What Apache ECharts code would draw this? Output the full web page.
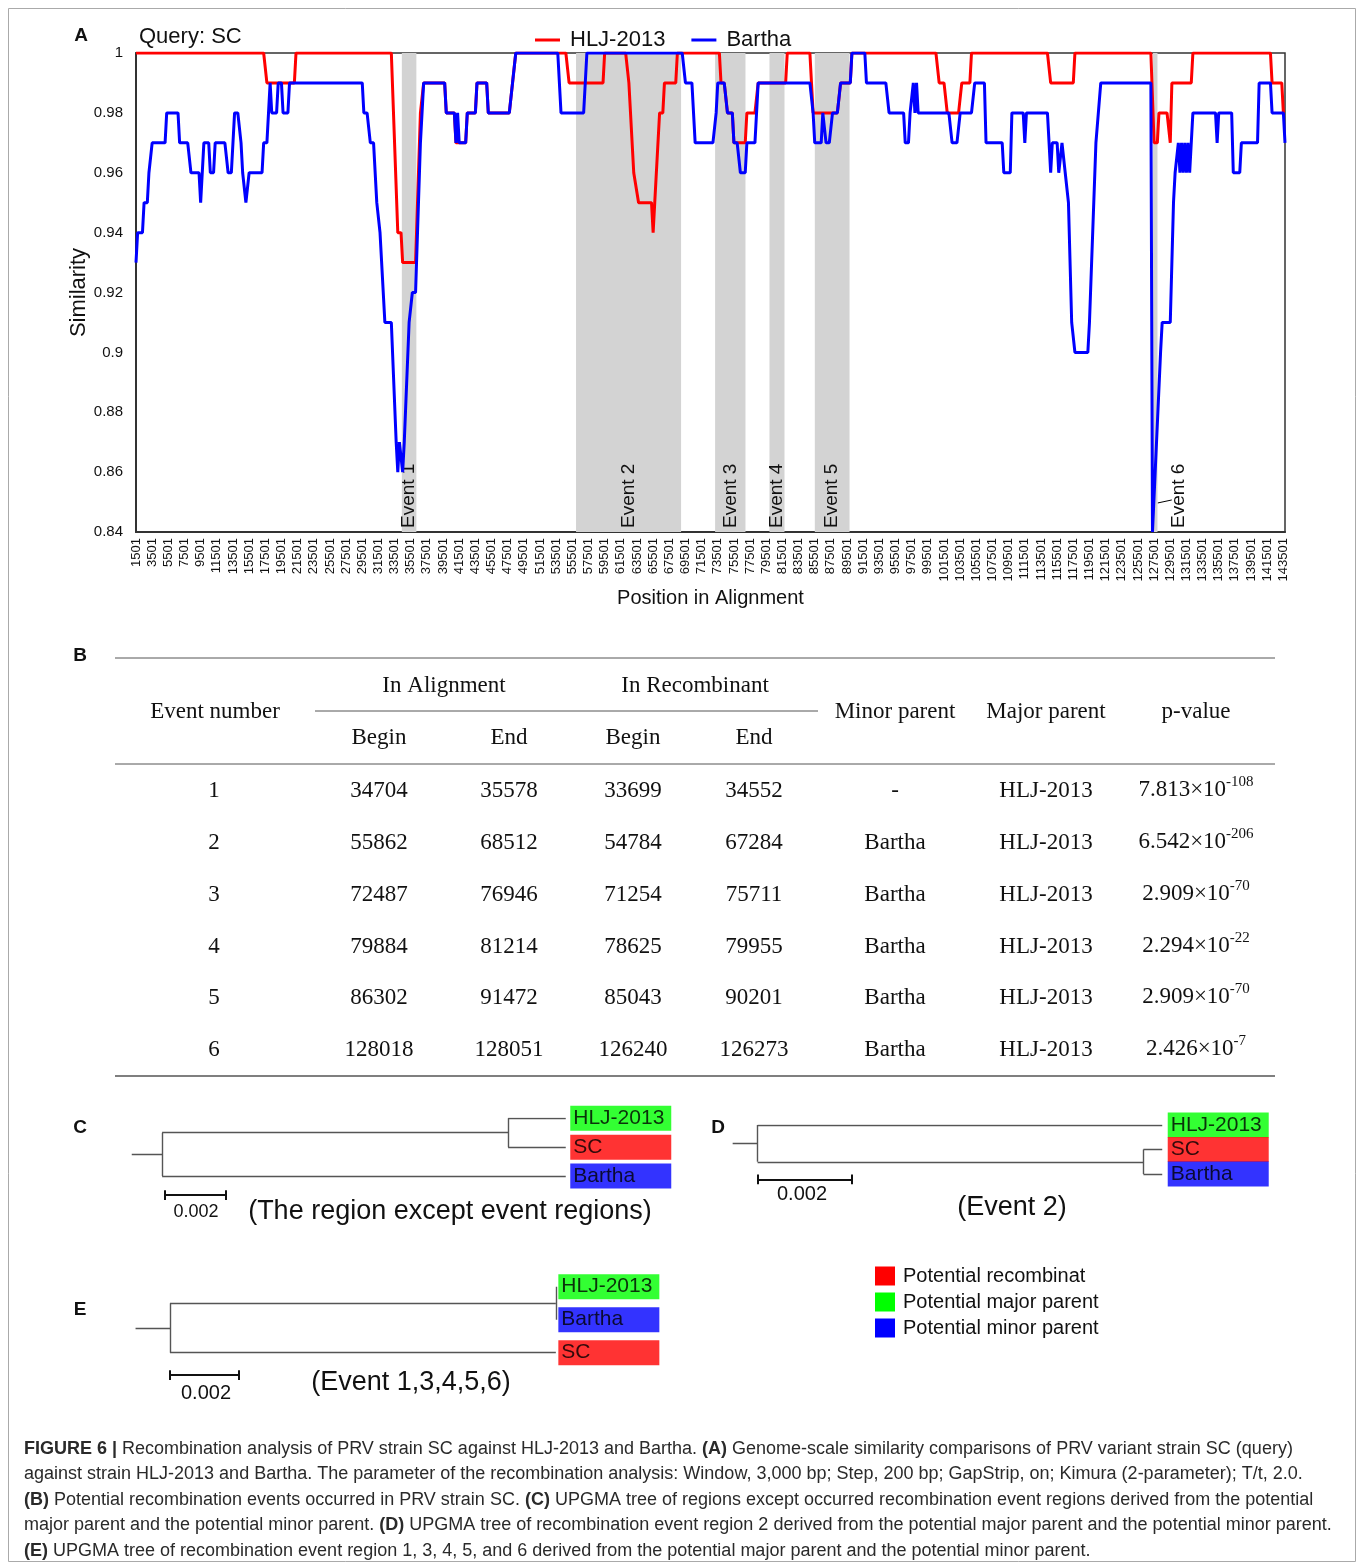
<!DOCTYPE html>
<html>
<head>
<meta charset="utf-8">
<script src="https://cdn.jsdelivr.net/npm/echarts@6.0.0/dist/echarts.min.js"></script>
<style>
  html, body { margin: 0; padding: 0; background: #fff; }
  #main { width: 1358px; height: 1564px; }
</style>
</head>
<body>
<div id="main"></div>
<script>
// ---- panel A : similarity along the alignment ----
const hljPos = [1501, 17301, 17701, 21101, 21301, 33101, 33901, 34301, 34501, 36101, 36701, 37101, 39701, 39901,
  40901, 41101, 42301, 42501, 43501, 43701, 44901, 45101, 47701, 48101, 48501, 54701, 55101, 59301, 59501, 62101,
  62501, 62701, 63101, 63301, 63701, 65301, 65501, 65701, 65901, 66301, 66701, 66901, 68301, 68501, 73701, 73901,
  74301, 74701, 75301, 75501, 76901, 77101, 78101, 78501, 81901, 82101, 84901, 85301, 88301, 88701, 89901, 90101,
  100501, 100901, 101501, 101901, 103301, 103701, 104701, 104901, 114301, 114701, 117501, 117701, 127101, 127501,
  127901, 128101, 129101, 129501, 129701, 132101, 132301, 141901, 142101, 143301, 143501, 143701]
const hljSim = [1, 1, 0.99, 0.99, 1, 1, 0.94, 0.94, 0.93, 0.93, 0.98, 0.99, 0.99, 0.98,
  0.98, 0.97, 0.97, 0.98, 0.98, 0.99, 0.99, 0.98, 0.98, 0.99, 1, 1, 0.99, 0.99, 1, 1,
  0.99, 0.99, 0.96, 0.96, 0.95, 0.95, 0.94, 0.95, 0.95, 0.98, 0.98, 0.99, 0.99, 1, 1, 0.99,
  0.99, 0.98, 0.98, 0.97, 0.97, 0.98, 0.98, 0.99, 0.99, 1, 1, 0.98, 0.98, 0.99, 0.99, 1,
  1, 0.99, 0.99, 0.98, 0.98, 0.99, 0.99, 1, 1, 0.99, 0.99, 1, 1, 0.97,
  0.97, 0.98, 0.98, 0.97, 0.99, 0.99, 1, 1, 0.99, 0.99, 0.98, 0.98]

const barthaPos = [1501, 1701, 2301, 2501, 2901, 3101, 3301, 3501, 5101, 5301, 6701, 6901, 7901, 8301, 9301, 9501,
  9901, 10501, 10701, 11101, 11301, 12501, 12901, 13301, 13701, 14101, 14501, 14701, 14901, 15101, 15301, 15501,
  17101, 17301, 17701, 17901, 18101, 18301, 18901, 19101, 19501, 19701, 20301, 20501, 29501, 29701, 30101, 30501,
  30901, 31301, 31701, 32301, 33101, 33701, 33901, 34101, 34501, 34701, 34901, 35301, 35501, 35701, 36101, 36701,
  37101, 39701, 39901, 40901, 41101, 41301, 41501, 42301, 42501, 43501, 43701, 44901, 45101, 47701, 48101, 48501,
  53701, 54101, 56901, 57301, 69101, 69501, 70301, 70701, 72901, 73301, 73501, 74301, 74701, 75301, 75501, 75901,
  76301, 76901, 77101, 78101, 78501, 84901, 85301, 85501, 86301, 86501, 86901, 87301, 87701, 88301, 88701, 89901,
  90101, 91701, 91901, 94301, 94701, 96501, 96701, 97101, 97301, 97501, 97701, 97901, 98101, 98301, 102101, 102501,
  103101, 103501, 104901, 105301, 106501, 106701, 108701, 108901, 109701, 109901, 111301, 111501, 111701, 114301,
  114701, 114901, 115501, 115701, 116101, 116301, 116501, 116701, 116901, 117101, 117301, 117501, 117701, 119301,
  119501, 119701, 120301, 120901, 127101, 127301, 128301, 128501, 129501, 129901, 130101, 130501, 130701, 130901,
  131101, 131301, 131501, 131701, 131901, 132101, 132301, 135101, 135301, 135501, 137101, 137301, 138101, 138301,
  140301, 140501, 141901, 142101, 143501, 143701]
const barthaSim = [0.93, 0.94, 0.94, 0.95, 0.95, 0.96, 0.96, 0.97, 0.97, 0.98, 0.98, 0.97, 0.97, 0.96, 0.96, 0.95,
  0.97, 0.97, 0.96, 0.96, 0.97, 0.97, 0.96, 0.96, 0.98, 0.98, 0.97, 0.96, 0.96, 0.95, 0.95, 0.96,
  0.96, 0.97, 0.97, 0.98, 0.99, 0.98, 0.98, 0.99, 0.99, 0.98, 0.98, 0.99, 0.99, 0.98, 0.98, 0.97,
  0.97, 0.95, 0.94, 0.91, 0.91, 0.87, 0.86, 0.87, 0.86, 0.87, 0.87, 0.91, 0.91, 0.92, 0.92, 0.97,
  0.99, 0.99, 0.98, 0.98, 0.97, 0.98, 0.97, 0.97, 0.98, 0.98, 0.99, 0.99, 0.98, 0.98, 0.99, 1,
  1, 0.98, 0.98, 1, 1, 0.99, 0.99, 0.97, 0.97, 0.98, 0.99, 0.99, 0.98, 0.98, 0.97, 0.97,
  0.96, 0.96, 0.97, 0.97, 0.99, 0.99, 0.98, 0.97, 0.97, 0.98, 0.97, 0.97, 0.98, 0.98, 0.99, 0.99,
  1, 1, 0.99, 0.99, 0.98, 0.98, 0.97, 0.97, 0.98, 0.98, 0.99, 0.98, 0.99, 0.98, 0.98, 0.97,
  0.97, 0.98, 0.98, 0.99, 0.99, 0.97, 0.97, 0.96, 0.96, 0.98, 0.98, 0.97, 0.98, 0.98,
  0.96, 0.97, 0.97, 0.96, 0.97, 0.97, 0.96, 0.96, 0.95, 0.95, 0.91, 0.91, 0.90, 0.90,
  0.91, 0.91, 0.97, 0.99, 0.99, 0.84, 0.90, 0.91, 0.91, 0.95, 0.96, 0.97, 0.96, 0.97,
  0.96, 0.97, 0.96, 0.97, 0.96, 0.96, 0.98, 0.98, 0.97, 0.98, 0.98, 0.96, 0.96, 0.97,
  0.97, 0.99, 0.99, 0.98, 0.98, 0.97]

const eventNames = ['Event 1', 'Event 2', 'Event 3', 'Event 4', 'Event 5', 'Event 6']
const eventStart = [34400, 55960, 73170, 79900, 85510, 127370]
const eventEnd = [36200, 68960, 76930, 81760, 89810, 127920]

const simTicks = [0.84, 1, 0.02]        // min, max, step
const posTicks = [1501, 143701, 2000]   // min, max, step

// ---- panel B : table ----
const eventNo = [1, 2, 3, 4, 5, 6]
const alnBegin = [34704, 55862, 72487, 79884, 86302, 128018]
const alnEnd = [35578, 68512, 76946, 81214, 91472, 128051]
const recBegin = [33699, 54784, 71254, 78625, 85043, 126240]
const recEnd = [34552, 67284, 75711, 79955, 90201, 126273]
const minorParent = ['-', 'Bartha', 'Bartha', 'Bartha', 'Bartha', 'Bartha']
const majorParent = ['HLJ-2013', 'HLJ-2013', 'HLJ-2013', 'HLJ-2013', 'HLJ-2013', 'HLJ-2013']
const pMantissa = ['7.813', '6.542', '2.909', '2.294', '2.909', '2.426']
const pExponent = ['-108', '-206', '-70', '-22', '-70', '-7']

// ---- panels C, D, E : UPGMA trees (branch lengths) ----
const treeCLeaves = ['HLJ-2013', 'SC', 'Bartha']
const treeCClade = [0, 1]
const treeCInner = 0.0114
const treeCTips = [0.0019, 0.0019, 0.0133]

const treeDLeaves = ['HLJ-2013', 'SC', 'Bartha']
const treeDClade = [1, 2]
const treeDInner = 0.0082
const treeDTips = [0.0086, 0.0004, 0.0004]

const treeELeaves = ['HLJ-2013', 'Bartha', 'SC']
const treeEClade = [0, 1]
const treeEInner = 0.0112
const treeETips = [0, 0, 0.0112]

const scaleBarLen = 0.002

const strainColor = { 'HLJ-2013': '#00ff00', 'SC': '#ff0000', 'Bartha': '#0000ff' }
const SANS = '"Liberation Sans", Arial, sans-serif'
const SERIF = '"Liberation Serif", "Times New Roman", serif'

// tree layout (style only)
const treeLayout = [
  { leaves: treeCLeaves, clade: treeCClade, inner: treeCInner, tips: treeCTips,
    grid: { left: 131.75, top: 1118.3, width: 455.25, height: 86.55 }, xMin: -0.001, xMax: 0.014,
    stub: 0.001, barY: 2.66, barX: 0.0001, tick: 0.17, dist: 4 },
  { leaves: treeDLeaves, clade: treeDClade, inner: treeDInner, tips: treeDTips,
    grid: { left: 710.55, top: 1125, width: 470.5, height: 73.5 }, xMin: -0.001, xMax: 0.009,
    stub: 0.00053, barY: 2.22, barX: 0, tick: 0.2, dist: 5 },
  { leaves: treeELeaves, clade: treeEClade, inner: treeEInner, tips: treeETips,
    grid: { left: 135.55, top: 1286.7, width: 447.85, height: 99 }, xMin: -0.001, xMax: 0.012,
    stub: 0.001, barY: 2.68, barX: 0, tick: 0.15, dist: 2 }
]

const chart = echarts.init(document.getElementById('main'))

const grids = [{ left: 136, top: 53, width: 1149, height: 479, show: true, borderColor: '#333', borderWidth: 1.5 }]
const xAxes = [{
  type: 'value', gridIndex: 0, min: posTicks[0], max: posTicks[1], interval: posTicks[2],
  name: 'Position in Alignment', nameLocation: 'middle', nameGap: 56,
  nameTextStyle: { fontSize: 20, color: '#111', fontFamily: SANS },
  axisLine: { lineStyle: { color: '#333', width: 2 } },
  axisTick: { show: false }, splitLine: { show: false },
  axisLabel: {
    rotate: 90, fontSize: 13, color: '#111', margin: 6, fontFamily: SANS, showMaxLabel: false,
    formatter: v => ((v - posTicks[0]) % posTicks[2] === 0 ? String(v) : '')
  }
}]
const yAxes = [{
  type: 'value', gridIndex: 0, min: simTicks[0], max: simTicks[1], interval: simTicks[2],
  name: 'Similarity', nameLocation: 'middle', nameGap: 46, nameRotate: 90, nameMoveOverlap: false,
  nameTextStyle: { fontSize: 22, color: '#111', fontFamily: SANS },
  axisLine: { show: true, lineStyle: { color: '#333', width: 2 } },
  axisTick: { show: false }, splitLine: { show: false },
  axisLabel: { fontSize: 15, color: '#111', margin: 13, fontFamily: SANS, formatter: v => String(+v.toFixed(2)) }
}]

const series = [
  {
    name: 'HLJ-2013', type: 'line', xAxisIndex: 0, yAxisIndex: 0, symbol: 'none', z: 3,
    lineStyle: { color: '#ff0000', width: 3 }, itemStyle: { color: '#ff0000' },
    data: hljPos.map((p, i) => [p, hljSim[i]]),
    markArea: {
      silent: true,
      itemStyle: { color: '#d3d3d3' },
      label: {
        show: true, position: 'insideBottom', rotate: 90, align: 'left', verticalAlign: 'middle',
        distance: 4, fontSize: 19, color: '#111', fontFamily: SANS
      },
      data: eventNames.map((n, i) => [
        i === 5 ? { name: n, xAxis: eventStart[i], label: { offset: [0, 24] } } : { name: n, xAxis: eventStart[i] },
        { xAxis: eventEnd[i] }
      ])
    },
    markLine: {
      silent: true, symbol: ['none', 'none'], label: { show: false },
      lineStyle: { color: '#000', width: 1, type: 'solid' },
      data: [[{ coord: [eventEnd[5] + 40, 0.8497] }, { coord: [eventEnd[5] + 1770, 0.8507] }]]
    }
  },
  {
    name: 'Bartha', type: 'line', xAxisIndex: 0, yAxisIndex: 0, symbol: 'none', z: 4,
    lineStyle: { color: '#0000ff', width: 3 }, itemStyle: { color: '#0000ff' },
    data: barthaPos.map((p, i) => [p, barthaSim[i]])
  }
]

// trees
treeLayout.forEach((t, ti) => {
  const gi = ti + 1
  grids.push(Object.assign({ show: false }, t.grid))
  xAxes.push({ type: 'value', gridIndex: gi, min: t.xMin, max: t.xMax, show: false })
  yAxes.push({ type: 'value', gridIndex: gi, min: 0, max: 3, inverse: true, show: false })
  const [a, b] = t.clade
  const single = [0, 1, 2].find(k => k !== a && k !== b)
  const cladeY = (a + b) / 2
  const rootY = (cladeY + single) / 2
  const tipX = [0, 1, 2].map(k => (k === single ? t.tips[k] : t.inner + t.tips[k]))
  const segs = [
    [[-t.stub, rootY], [0, rootY]],
    [[0, Math.min(cladeY, single)], [0, Math.max(cladeY, single)]],
    [[0, cladeY], [t.inner, cladeY]],
    [[0, single], [tipX[single], single]],
    [[t.inner, a], [t.inner, b]],
    [[t.inner, a], [tipX[a], a]],
    [[t.inner, b], [tipX[b], b]]
  ]
  series.push({
    type: 'lines', coordinateSystem: 'cartesian2d', xAxisIndex: gi, yAxisIndex: gi, silent: true,
    lineStyle: { color: '#555', width: 1.4, opacity: 1 },
    data: segs.map(c => ({ coords: c }))
  })
  const bx0 = t.barX, bx1 = t.barX + scaleBarLen
  series.push({
    type: 'lines', coordinateSystem: 'cartesian2d', xAxisIndex: gi, yAxisIndex: gi, silent: true,
    lineStyle: { color: '#111', width: 2, opacity: 1 },
    data: [
      { coords: [[bx0, t.barY], [bx1, t.barY]] },
      { coords: [[bx0, t.barY - t.tick], [bx0, t.barY + t.tick]] },
      { coords: [[bx1, t.barY - t.tick], [bx1, t.barY + t.tick]] }
    ]
  })
  series.push({
    type: 'scatter', xAxisIndex: gi, yAxisIndex: gi, symbolSize: 1, silent: true,
    itemStyle: { color: 'transparent' },
    label: {
      show: true, position: 'right', distance: t.dist, formatter: '{b}', fontSize: 21, color: '#000',
      fontFamily: SANS, width: 98, height: 25, lineHeight: 25, padding: [0, 0, 0, 3], align: 'left'
    },
    data: t.leaves.map((n, k) => ({ name: n, value: [tipX[k], k], label: { backgroundColor: strainColor[n] } }))
  })
})

// graphic: titles, table, captions
const g = []
const txt = (x, y, text, font, extra) => g.push({
  type: 'text', x, y, silent: true,
  style: Object.assign({ text, font, fill: '#111', align: 'center', verticalAlign: 'middle' }, extra || {})
})
const hline = (x1, x2, y, w) => g.push({
  type: 'line', silent: true, shape: { x1, y1: y, x2, y2: y }, style: { stroke: '#555', lineWidth: w || 1 }
})

g.push({ type: 'rect', silent: true, z: -1, shape: { x: 8.5, y: 8.5, width: 1347, height: 1553 },
  style: { fill: 'none', stroke: '#aaa', lineWidth: 1 } })

txt(81, 36, 'A', 'bold 19px ' + SANS)
txt(139, 37, 'Query: SC', '22px ' + SANS, { align: 'left' })
txt(80, 656, 'B', 'bold 19px ' + SANS)
txt(80, 1128, 'C', 'bold 19px ' + SANS)
txt(718, 1128, 'D', 'bold 19px ' + SANS)
txt(80, 1310, 'E', 'bold 19px ' + SANS)

// table
const TF = '23px ' + SERIF
hline(115, 1275, 658)
hline(315, 818, 711)
hline(115, 1275, 764)
hline(115, 1275, 1076, 1.5)
txt(215, 712, 'Event number', TF)
txt(444, 686, 'In Alignment', TF)
txt(695, 686, 'In Recombinant', TF)
txt(379, 738, 'Begin', TF)
txt(509, 738, 'End', TF)
txt(633, 738, 'Begin', TF)
txt(754, 738, 'End', TF)
txt(895, 712, 'Minor parent', TF)
txt(1046, 712, 'Major parent', TF)
txt(1196, 712, 'p-value', TF)
const rowY = [791, 843, 895, 947, 998, 1050]
eventNo.forEach((e, i) => {
  const y = rowY[i]
  txt(214, y, String(e), TF)
  txt(379, y, String(alnBegin[i]), TF)
  txt(509, y, String(alnEnd[i]), TF)
  txt(633, y, String(recBegin[i]), TF)
  txt(754, y, String(recEnd[i]), TF)
  txt(895, y, minorParent[i], TF)
  txt(1046, y, majorParent[i], TF)
  g.push({
    type: 'text', x: 1196, y: y - 3, silent: true,
    style: {
      text: '{m|' + pMantissa[i] + '×10}{s|' + pExponent[i] + '}', align: 'center', verticalAlign: 'middle',
      fill: '#111',
      rich: {
        m: { fontSize: 23, fontFamily: SERIF, lineHeight: 26, verticalAlign: 'bottom' },
        s: { fontSize: 15, fontFamily: SERIF, lineHeight: 15, verticalAlign: 'top' }
      }
    }
  })
})

// tree annotations
txt(196, 1212, '0.002', '18px ' + SANS)
txt(450, 1212, '(The region except event regions)', '27px ' + SANS)
txt(802, 1194, '0.002', '20px ' + SANS)
txt(1012, 1208, '(Event 2)', '27px ' + SANS)
txt(206, 1393, '0.002', '20px ' + SANS)
txt(411, 1383, '(Event 1,3,4,5,6)', '27px ' + SANS)

const roleNames = ['Potential recombinat', 'Potential major parent', 'Potential minor parent']
const roleColors = ['#ff0000', '#00ff00', '#0000ff']
roleNames.forEach((n, i) => {
  const y = 1276 + i * 26
  g.push({ type: 'rect', silent: true, shape: { x: 875, y: y - 9.5, width: 20, height: 19 }, style: { fill: roleColors[i] } })
  txt(903, y, n, '20px ' + SANS, { align: 'left' })
})

// figure caption
const captionLines = [
  '{b|FIGURE 6 |} Recombination analysis of PRV strain SC against HLJ-2013 and Bartha. {b|(A)} Genome-scale similarity comparisons of PRV variant strain SC (query)',
  'against strain HLJ-2013 and Bartha. The parameter of the recombination analysis: Window, 3,000 bp; Step, 200 bp; GapStrip, on; Kimura (2-parameter); T/t, 2.0.',
  '{b|(B)} Potential recombination events occurred in PRV strain SC. {b|(C)} UPGMA tree of regions except occurred recombination event regions derived from the potential',
  'major parent and the potential minor parent. {b|(D)} UPGMA tree of recombination event region 2 derived from the potential major parent and the potential minor parent.',
  '{b|(E)} UPGMA tree of recombination event region 1, 3, 4, 5, and 6 derived from the potential major parent and the potential minor parent.'
]
captionLines.forEach((line, i) => {
  g.push({
    type: 'text', x: 24, y: 1449 + i * 25.5, silent: true,
    style: {
      text: line, fontSize: 18, fontFamily: SANS, fill: '#2a2a2a', align: 'left', verticalAlign: 'middle',
      rich: { b: { fontSize: 18, fontFamily: SANS, fontWeight: 'bold', fill: '#2a2a2a' } }
    }
  })
})

chart.setOption({
  backgroundColor: '#fff',
  animation: false,
  textStyle: { fontFamily: SANS },
  legend: {
    data: ['HLJ-2013', 'Bartha'], left: 530, top: 24, icon: 'rect', itemWidth: 25, itemHeight: 3, itemGap: 26,
    textStyle: { fontSize: 22, color: '#111', fontFamily: SANS, padding: [0, 0, 0, 5] }
  },
  grid: grids,
  xAxis: xAxes,
  yAxis: yAxes,
  series: series,
  graphic: g
})
</script>
</body>
</html>
